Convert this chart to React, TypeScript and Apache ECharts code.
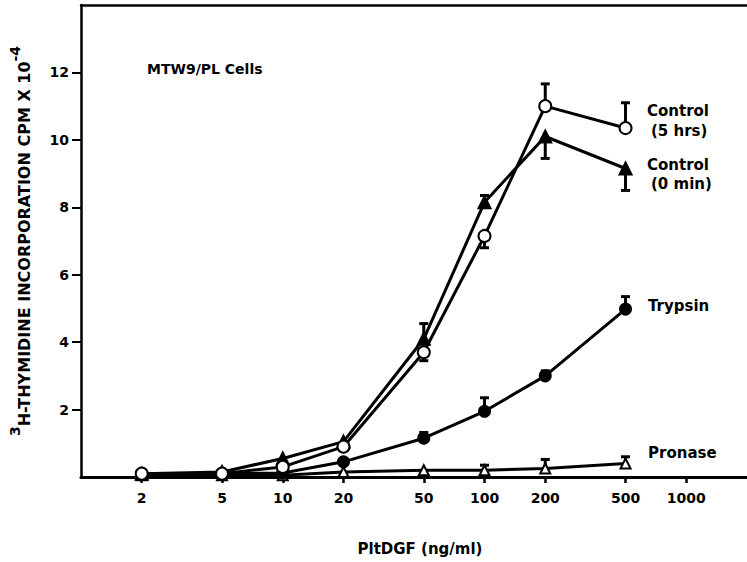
import React, { useEffect, useRef } from "react";
import * as echarts from "echarts";

// PltDGF concentration (ng/ml)
const doses = [2, 5, 10, 20, 50, 100, 200, 500];
const xTicks = [2, 5, 10, 20, 50, 100, 200, 500, 1000];
const yTicks = [2, 4, 6, 8, 10, 12];

// 3H-thymidine incorporation, CPM x 10^-4
const control5h = [0.1, 0.1, 0.3, 0.9, 3.7, 7.15, 11.0, 10.35];
const control0 = [0.1, 0.15, 0.55, 1.05, 4.1, 8.15, 10.1, 9.15];
const trypsin = [0.1, 0.1, 0.12, 0.45, 1.15, 1.95, 3.0, 4.98];
const pronase = [0.05, 0.05, 0.05, 0.15, 0.2, 0.2, 0.25, 0.4];

// one-sided error bars: [dose, mean, bar end]
const control5hErr = [
  [50, 3.7, 3.45],
  [100, 7.15, 6.8],
  [200, 11.0, 11.66],
  [500, 10.35, 11.1],
];
const control0Err = [
  [50, 4.1, 4.55],
  [100, 8.15, 8.35],
  [200, 10.1, 9.45],
  [500, 9.15, 8.5],
];
const trypsinErr = [
  [50, 1.15, 1.32],
  [100, 1.95, 2.35],
  [200, 3.0, 3.15],
  [500, 4.98, 5.35],
];
const pronaseErr = [
  [100, 0.2, 0.35],
  [200, 0.25, 0.52],
  [500, 0.4, 0.6],
];

const FONT = "DejaVu Sans";

const pairs = (ys: number[]) => doses.map((d, i) => [d, ys[i]]);

function lineSeries(name: string, ys: number[], symbol: string, filled: boolean, size: number) {
  return {
    name,
    type: "line",
    data: pairs(ys),
    symbol,
    symbolSize: size,
    showAllSymbol: true,
    lineStyle: { color: "#000", width: 3 },
    itemStyle: { color: filled ? "#000" : "#fff", borderColor: "#000", borderWidth: 2 },
    z: 3,
  };
}

function errSeries(name: string, rows: number[][]) {
  return {
    name: name + " error",
    type: "custom",
    data: rows,
    encode: { x: 0, y: [1, 2] },
    z: 2,
    renderItem: (_params: any, api: any) => {
      const x = api.value(0);
      const p0 = api.coord([x, api.value(1)]);
      const p1 = api.coord([x, api.value(2)]);
      return {
        type: "group",
        children: [
          {
            type: "line",
            shape: { x1: p0[0], y1: p0[1], x2: p1[0], y2: p1[1] },
            style: { stroke: "#000", lineWidth: 3 },
          },
          {
            type: "line",
            shape: { x1: p1[0] - 4.5, y1: p1[1], x2: p1[0] + 4.5, y2: p1[1] },
            style: { stroke: "#000", lineWidth: 3 },
          },
        ],
      };
    },
  };
}

const labelStyle = { fill: "#000", font: `bold 15px '${FONT}'` };

export default function App() {
  const ref = useRef<HTMLDivElement>(null);

  useEffect(() => {
    if (!ref.current) return;
    const chart = echarts.init(ref.current, null, { renderer: "svg" });
    chart.setOption({
      animation: false,
      backgroundColor: "#fff",
      grid: { left: 81, right: 0, top: 5, bottom: 85, containLabel: false, outerBoundsMode: "none" },
      xAxis: [
        {
          type: "log",
          logBase: 10,
          min: 1,
          max: 2000,
          name: "PltDGF (ng/ml)",
          nameLocation: "middle",
          nameGap: 64,
          nameTextStyle: {
            fontFamily: FONT,
            fontWeight: "bold",
            fontSize: 15,
            color: "#000",
            padding: [0, 0, 0, 12],
          },
          axisLine: { lineStyle: { color: "#000", width: 3 } },
          axisTick: { show: true, length: 6, lineStyle: { color: "#000", width: 2.5 }, customValues: xTicks },
          axisLabel: {
            customValues: xTicks,
            margin: 14,
            fontFamily: FONT,
            fontWeight: "bold",
            fontSize: 14,
            color: "#000",
            formatter: (v: number) => String(v),
          },
          splitLine: { show: false },
          minorTick: { show: false },
        },
        {
          type: "value",
          position: "top",
          min: 0,
          max: 1,
          axisLine: { show: true, lineStyle: { color: "#000", width: 2.5 } },
          axisTick: { show: false },
          axisLabel: { show: false },
          splitLine: { show: false },
        },
      ],
      yAxis: {
        type: "value",
        min: 0,
        max: 14,
        interval: 2,
        name: "{sup|3}{t|H-THYMIDINE INCORPORATION CPM X 10}{sup|-4}",
        nameLocation: "middle",
        nameRotate: 90,
        nameGap: 49,
        nameTextStyle: {
          color: "#000",
          rich: {
            t: { fontFamily: FONT, fontWeight: "bold", fontSize: 16, color: "#000", lineHeight: 24, verticalAlign: "bottom" },
            sup: { fontFamily: FONT, fontWeight: "bold", fontSize: 14, color: "#000", lineHeight: 24, verticalAlign: "top" },
          },
        },
        axisLine: { show: true, lineStyle: { color: "#000", width: 2.5 } },
        axisTick: { show: true, length: 9, lineStyle: { color: "#000", width: 2 }, customValues: yTicks },
        axisLabel: {
          customValues: yTicks,
          margin: 12,
          fontFamily: FONT,
          fontWeight: "bold",
          fontSize: 14,
          color: "#000",
        },
        splitLine: { show: false },
      },
      series: [
        errSeries("Pronase", pronaseErr),
        errSeries("Trypsin", trypsinErr),
        errSeries("Control (0 min)", control0Err),
        errSeries("Control (5 hrs)", control5hErr),
        lineSeries("Pronase", pronase, "triangle", false, 10),
        lineSeries("Trypsin", trypsin, "circle", true, 11),
        lineSeries("Control (0 min)", control0, "triangle", true, 12),
        lineSeries("Control (5 hrs)", control5h, "circle", false, 12),
      ],
      graphic: [
        { type: "text", left: 147, top: 62, style: { text: "MTW9/PL Cells", fill: "#000", font: `bold 14px '${FONT}'` } },
        { type: "text", left: 647, top: 103, style: { text: "Control", ...labelStyle } },
        { type: "text", left: 651, top: 123, style: { text: "(5 hrs)", ...labelStyle } },
        { type: "text", left: 647, top: 157, style: { text: "Control", ...labelStyle } },
        { type: "text", left: 651, top: 176, style: { text: "(0 min)", ...labelStyle } },
        { type: "text", left: 648, top: 298, style: { text: "Trypsin", ...labelStyle } },
        { type: "text", left: 648, top: 445, style: { text: "Pronase", ...labelStyle } },
      ],
    });
    return () => chart.dispose();
  }, []);

  return (
    <div
      ref={ref}
      style={{ position: "fixed", left: 0, top: 0, width: 747, height: 562, background: "#fff" }}
    />
  );
}
